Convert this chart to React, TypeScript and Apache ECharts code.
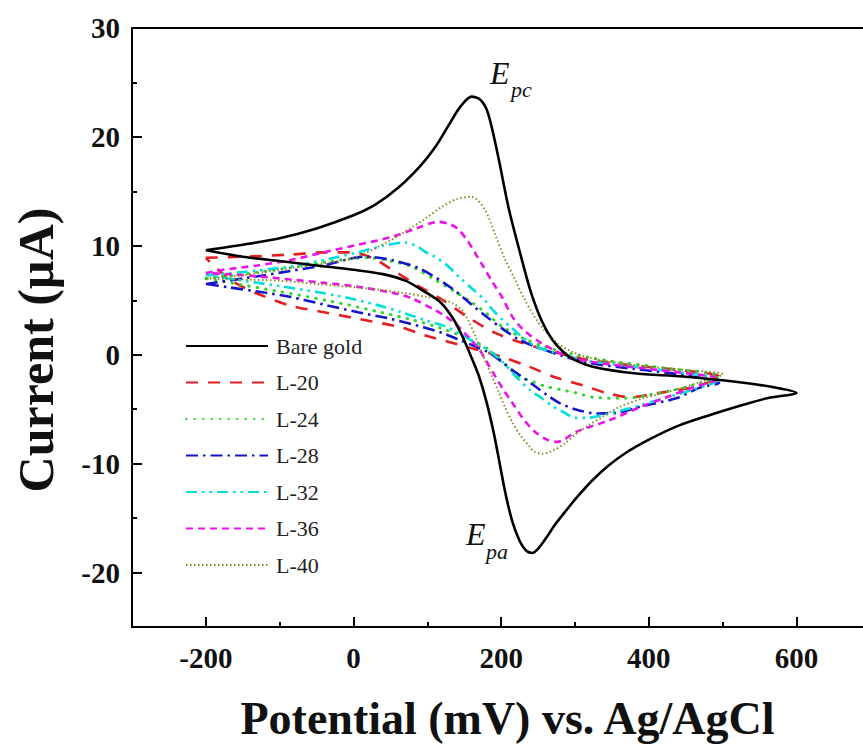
import React, { useEffect, useRef } from "react";
import * as echarts from "echarts";

// Axis ticks
const potentialTicks = [-200, 0, 200, 400, 600];
const potentialMinorTicks = [-100, 100, 300, 500];
const currentTicks = [-20, -10, 0, 10, 20, 30];
const currentMinorTicks = [-15, -5, 5, 15, 25];

// Legend / series names
const seriesNames = ["Bare gold", "L-20", "L-24", "L-28", "L-32", "L-36", "L-40"];

// [potential (mV), current (µA)] — closed CV loops
const bareGold = [
  [-200, 9.6], [-150, 10.1], [-100, 10.7], [-50, 11.6], [0, 12.8], [30, 13.8], [60, 15.3], [90, 17.3],
  [110, 19.0], [130, 21.2], [145, 22.8], [160, 23.7], [172, 23.4], [182, 22.2], [195, 18.5], [210, 13.5],
  [225, 9.5], [240, 5.8], [255, 3.1], [270, 1.3], [285, 0.2], [300, -0.5], [324, -1.1], [380, -1.7],
  [446, -2.0], [520, -2.5], [570, -3.0], [600, -3.5],
  [560, -4.0], [528, -4.6], [480, -5.6], [437, -6.6], [400, -7.8], [369, -9.0], [345, -10.2], [324, -11.5],
  [305, -12.9], [288, -14.3], [274, -15.5], [260, -16.9], [250, -17.8], [242, -18.2], [234, -18.0],
  [225, -17.1], [215, -15.3], [206, -12.8], [198, -10.0], [190, -7.2], [180, -4.3], [170, -2.0],
  [160, -0.3], [148, 1.6], [135, 3.3], [118, 4.8], [96, 5.8], [70, 6.8], [40, 7.4], [0, 7.8],
  [-50, 8.2], [-100, 8.6], [-150, 9.0], [-200, 9.6],
];

const l20 = [
  [-200, 8.9], [-150, 9.0], [-85, 9.2], [-40, 9.4], [-3, 9.4], [28, 8.8], [50, 7.9], [74, 6.9],
  [88, 6.3], [119, 5.1], [156, 3.4], [192, 2.0], [228, 1.1], [274, 0.2], [320, -0.5], [380, -1.0],
  [440, -1.4], [495, -2.0],
  [465, -2.9], [415, -3.5], [374, -3.9], [342, -3.5], [310, -2.8], [274, -2.1], [238, -1.1],
  [201, -0.2], [165, 0.5], [96, 1.8], [65, 2.5], [6, 3.3], [-40, 3.9], [-85, 4.5], [-130, 5.6],
  [-160, 6.6], [-180, 7.6], [-200, 8.9],
];

const l24 = [
  [-200, 7.0], [-150, 7.4], [-85, 8.0], [-30, 8.6], [20, 8.9], [50, 8.6], [78, 8.1], [110, 6.9],
  [156, 5.0], [180, 3.8], [201, 2.6], [230, 1.5], [260, 0.7], [300, 0.0], [350, -0.6], [420, -1.2],
  [495, -2.0],
  [460, -2.8], [415, -3.5], [365, -4.0], [324, -3.9], [301, -3.5], [280, -3.2], [260, -2.9],
  [240, -2.4], [224, -2.0], [205, -0.9], [183, 0.5], [160, 1.3], [124, 2.3], [80, 3.2], [30, 4.0],
  [-30, 4.9], [-100, 5.8], [-150, 6.4], [-200, 7.0],
];

const l28 = [
  [-200, 6.5], [-130, 7.2], [-85, 7.7], [-40, 8.2], [15, 9.0], [51, 8.7], [90, 7.9], [133, 6.1],
  [178, 3.6], [224, 1.4], [269, 0.2], [315, -0.7], [380, -1.3], [440, -1.8], [495, -2.6],
  [470, -3.0], [437, -4.0], [392, -4.7], [360, -5.3], [330, -5.4], [300, -5.0], [278, -4.4],
  [262, -3.7], [246, -2.9], [230, -2.1], [215, -1.4], [200, -0.6], [183, 0.2], [160, 0.9],
  [142, 1.4], [120, 2.0], [96, 2.5], [50, 3.3], [6, 3.9], [-40, 4.6], [-85, 5.3], [-130, 5.8],
  [-170, 6.2], [-200, 6.5],
];

const l32 = [
  [-200, 7.3], [-150, 7.6], [-85, 8.1], [-40, 8.7], [6, 9.4], [40, 10.0], [69, 10.3], [85, 10.0],
  [96, 9.5], [110, 9.0], [125, 8.3], [142, 7.2], [160, 6.1], [178, 5.0], [190, 4.0], [215, 2.4],
  [246, 0.8], [283, 0.0], [320, -0.6], [380, -1.1], [440, -1.6], [495, -2.3],
  [460, -3.2], [420, -4.0], [380, -4.8], [340, -5.5], [315, -5.8], [301, -5.8], [285, -5.3],
  [269, -4.7], [255, -4.0], [238, -3.2], [220, -2.0], [201, -0.6], [183, 0.4], [165, 1.1],
  [145, 1.9], [124, 2.6], [100, 3.1], [65, 3.9], [30, 4.6], [-20, 5.4], [-100, 6.3], [-150, 6.8],
  [-200, 7.3],
];

const l36 = [
  [-200, 7.5], [-176, 7.8], [-130, 8.2], [-85, 8.7], [-40, 9.4], [6, 10.1], [51, 10.8], [85, 11.6],
  [115, 12.2], [130, 12.0], [142, 11.5], [155, 10.4], [165, 9.3], [174, 8.3], [188, 6.7], [201, 5.3],
  [215, 3.5], [230, 2.3], [256, 1.0], [292, -0.2], [337, -0.8], [400, -1.3], [450, -1.7], [495, -2.2],
  [460, -3.0], [420, -4.0], [392, -4.7], [347, -6.0], [301, -7.1], [285, -7.8], [276, -8.0],
  [262, -7.8], [246, -7.1], [230, -5.9], [215, -4.4], [203, -3.2], [192, -2.0], [180, -0.6],
  [170, 0.5], [156, 1.6], [142, 2.6], [125, 3.5], [110, 4.1], [78, 5.2], [51, 5.7], [0, 6.3],
  [-40, 6.6], [-85, 6.9], [-130, 7.2], [-170, 7.4], [-200, 7.5],
];

const l40 = [
  [-200, 7.0], [-150, 7.3], [-100, 7.8], [-50, 8.3], [0, 8.9], [50, 10.5], [95, 12.4], [120, 13.6],
  [140, 14.3], [160, 14.5], [178, 13.3], [192, 11.0], [205, 8.8], [218, 7.0], [230, 5.3], [245, 3.5],
  [258, 2.3], [275, 1.1], [295, 0.3], [320, -0.3], [365, -0.8], [400, -1.1], [450, -1.4], [500, -1.8],
  [470, -2.5], [437, -3.2], [392, -4.0], [360, -4.8], [337, -5.7], [318, -6.5], [301, -7.3],
  [285, -8.2], [270, -8.8], [256, -9.1], [245, -8.9], [238, -8.4], [226, -7.4], [215, -6.2],
  [205, -4.8], [197, -3.5], [187, -1.9], [178, -0.5], [165, 1.7], [155, 3.2], [147, 4.1], [135, 4.7],
  [124, 5.0], [100, 5.3], [65, 5.7], [30, 6.0], [0, 6.2], [-50, 6.5], [-100, 6.8], [-150, 6.9],
  [-200, 7.0],
];

const seriesData = [bareGold, l20, l24, l28, l32, l36, l40];

const lineStyles: any[] = [
  { color: "#000000", type: "solid", width: 2.6 },
  { color: "#e41e20", type: [12, 10], width: 2.6 },
  { color: "#2fd62f", type: [0.5, 8], width: 3, cap: "round" },
  { color: "#1515c8", type: [12, 5, 2.5, 5], width: 2.6 },
  { color: "#00dede", type: [11, 5, 2.5, 5, 2.5, 5], width: 2.6 },
  { color: "#ea14ea", type: [7, 5], width: 2.6 },
  { color: "#8a8a26", type: [1.5, 2.5], width: 2 },
];

const SERIF = "'Liberation Serif', 'Times New Roman', serif";

export default function App() {
  const ref = useRef<HTMLDivElement>(null);
  useEffect(() => {
    if (!ref.current) return;
    const chart = echarts.init(ref.current, null, { renderer: "svg" });
    const axisLine = { show: true, onZero: false, lineStyle: { color: "#000", width: 2 } };
    const tickStyle = { width: 2, color: "#000" };
    chart.setOption({
      animation: false,
      backgroundColor: "#fff",
      grid: { left: 132, top: 28, bottom: 118, right: 0, containLabel: false },
      legend: {
        data: seriesNames,
        orient: "vertical",
        left: 180,
        top: 330,
        itemWidth: 82,
        itemHeight: 14,
        itemGap: 14.5,
        itemStyle: { opacity: 0 },
        textStyle: { fontFamily: SERIF, fontSize: 22, color: "#222", lineHeight: 22, padding: [0, 0, 0, 3] },
      },
      xAxis: [
        {
          type: "value",
          position: "bottom",
          min: -300,
          max: 690,
          axisLine,
          splitLine: { show: false },
          axisTick: { show: true, inside: true, length: 10, customValues: potentialTicks, lineStyle: tickStyle },
          axisLabel: {
            customValues: potentialTicks,
            margin: 16,
            fontFamily: SERIF,
            fontWeight: "bold",
            fontSize: 29,
            color: "#111",
          },
          name: "Potential (mV) vs. Ag/AgCl",
          nameLocation: "middle",
          nameGap: 68,
          nameTextStyle: { fontFamily: SERIF, fontWeight: "bold", fontSize: 46, color: "#111", padding: [0, 0, 0, 20] },
        },
        {
          type: "value",
          position: "bottom",
          min: -300,
          max: 690,
          axisLine: { show: false, onZero: false },
          splitLine: { show: false },
          axisTick: { show: true, inside: true, length: 5, customValues: potentialMinorTicks, lineStyle: tickStyle },
          axisLabel: { show: false },
        },
        {
          type: "value",
          position: "top",
          min: -300,
          max: 690,
          axisLine,
          splitLine: { show: false },
          axisTick: { show: false },
          axisLabel: { show: false },
        },
      ],
      yAxis: [
        {
          type: "value",
          position: "left",
          min: -25,
          max: 30,
          axisLine,
          splitLine: { show: false },
          axisTick: { show: true, inside: true, length: 10, customValues: currentTicks, lineStyle: tickStyle },
          axisLabel: {
            customValues: currentTicks,
            margin: 12,
            fontFamily: SERIF,
            fontWeight: "bold",
            fontSize: 29,
            color: "#111",
          },
        },
        {
          type: "value",
          position: "left",
          min: -25,
          max: 30,
          axisLine: { show: false, onZero: false },
          splitLine: { show: false },
          axisTick: { show: true, inside: true, length: 5, customValues: currentMinorTicks, lineStyle: tickStyle },
          axisLabel: { show: false },
        },
      ],
      series: seriesNames.map((name, i) => ({
        name,
        type: "line",
        xAxisIndex: 0,
        yAxisIndex: 0,
        data: seriesData[i],
        showSymbol: false,
        symbol: "none",
        smooth: 0.3,
        lineStyle: lineStyles[i],
        itemStyle: { color: lineStyles[i].color },
        z: i === 0 ? 3 : 2,
      })),
      graphic: [
        {
          type: "text",
          x: 36,
          y: 350,
          rotation: Math.PI / 2,
          style: {
            text: "Current (µA)",
            fontFamily: SERIF,
            fontWeight: "bold",
            fontSize: 50,
            fill: "#111",
            textAlign: "center",
            textVerticalAlign: "middle",
          },
        },
        { type: "text", x: 490, y: 73, style: { text: "E", fontFamily: SERIF, fontStyle: "italic", fontSize: 32, fill: "#111", textVerticalAlign: "middle" } },
        { type: "text", x: 511, y: 89, style: { text: "pc", fontFamily: SERIF, fontStyle: "italic", fontSize: 22, fill: "#111", textVerticalAlign: "middle" } },
        { type: "text", x: 466, y: 534, style: { text: "E", fontFamily: SERIF, fontStyle: "italic", fontSize: 32, fill: "#111", textVerticalAlign: "middle" } },
        { type: "text", x: 486, y: 551, style: { text: "pa", fontFamily: SERIF, fontStyle: "italic", fontSize: 22, fill: "#111", textVerticalAlign: "middle" } },
      ],
    });
    return () => chart.dispose();
  }, []);
  return (
    <div
      ref={ref}
      style={{ position: "absolute", left: 0, top: 0, width: 863, height: 746, background: "#fff" }}
    />
  );
}
